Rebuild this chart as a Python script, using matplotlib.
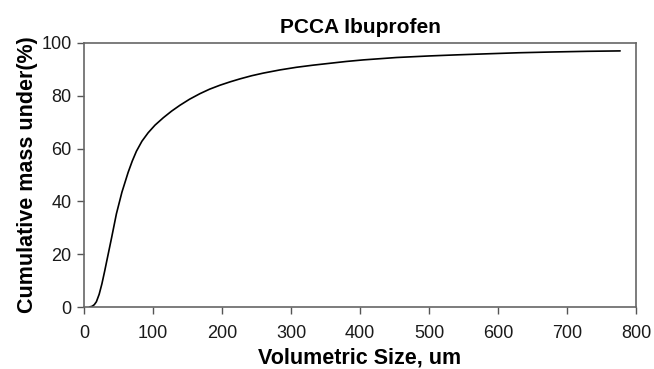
import matplotlib
matplotlib.use("Agg")
import matplotlib.pyplot as plt

# cumulative size distribution
size_um = [8, 12, 15, 18, 22, 26, 30, 33, 40, 47, 55, 64, 70, 76, 84, 93, 103,
           115, 127, 139, 153, 168, 182, 197, 212, 226, 243, 260, 284, 308,
           332, 356, 380, 405, 453, 501, 540, 584, 630, 680, 730, 777]
cum_mass = [0.0, 0.3, 0.9, 2.0, 4.8, 8.8, 13.6, 17.4, 26.2, 35.3, 43.5, 51.0,
            55.3, 59.0, 62.8, 66.0, 68.9, 71.7, 74.2, 76.4, 78.7, 80.8, 82.5,
            84.0, 85.3, 86.4, 87.6, 88.6, 89.8, 90.8, 91.6, 92.3, 93.0, 93.6,
            94.5, 95.1, 95.5, 95.9, 96.3, 96.6, 96.85, 97.0]

x_ticks = [0, 100, 200, 300, 400, 500, 600, 700, 800]
y_ticks = [0, 20, 40, 60, 80, 100]

plt.rcParams['font.family'] = ['Liberation Sans', 'DejaVu Sans']

fig = plt.figure(figsize=(6.54, 3.69), dpi=100)
ax = fig.add_axes([0.1284, 0.168, 0.8441, 0.7155])

ax.plot(size_um, cum_mass, color='black', lw=1.2, solid_capstyle='round',
        solid_joinstyle='round')

ax.set_xlim(0, 800)
ax.set_ylim(0, 100)
ax.set_xticks(x_ticks)
ax.set_yticks(y_ticks)
ax.tick_params(direction='out', length=5, width=1, color='#555555',
               labelsize=13, labelcolor='#1a1a1a')
ax.tick_params(axis='x', pad=8)
ax.tick_params(axis='y', pad=4)
for s in ax.spines.values():
    s.set_color('#666666')
    s.set_linewidth(1.2)

ax.set_title('PCCA Ibuprofen', fontsize=15, fontweight='bold', pad=7)
ax.set_xlabel('Volumetric Size, um', fontsize=15.5, fontweight='bold', labelpad=4)
ax.set_ylabel('Cumulative mass under(%)', fontsize=15.5, fontweight='bold', labelpad=2)

fig.savefig('out.png', dpi=100)
